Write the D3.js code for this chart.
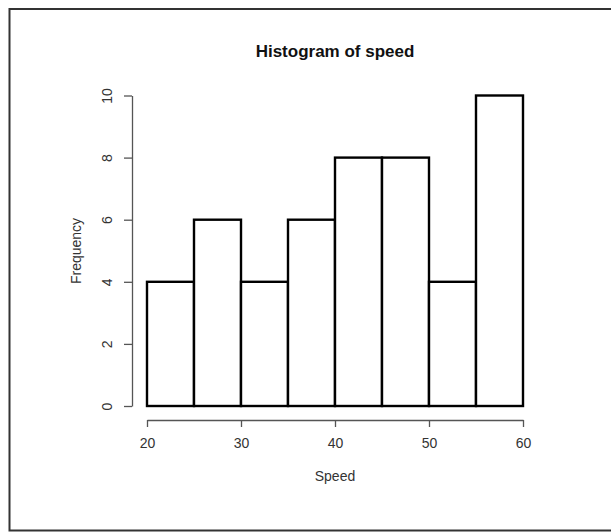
<!DOCTYPE html>
<html>
<head>
<meta charset="utf-8">
<script src="https://cdn.jsdelivr.net/npm/d3@7"></script>
<style>
  body { margin: 0; background: #fff; }
  text { font-family: "Liberation Sans", Arial, sans-serif; }
</style>
</head>
<body>
<svg id="svg" width="611" height="532"></svg>
<script>
/* global d3: false */

// bins of speed, 5 wide
const binStarts = [20, 25, 30, 35, 40, 45, 50, 55];
const binWidth = 5;
const counts = [4, 6, 4, 6, 8, 8, 4, 10];
const xTicks = [20, 30, 40, 50, 60];
const yTicks = [0, 2, 4, 6, 8, 10];
const title = 'Histogram of speed';
const xLabel = 'Speed';
const yLabel = 'Frequency';

const svg = d3.select('#svg');

// frame round the whole picture
svg.append('rect')
  .attr('x', 9.5)
  .attr('y', 9)
  .attr('width', 620)
  .attr('height', 521.5)
  .attr('fill', 'none')
  .attr('stroke', '#333')
  .attr('stroke-width', 2);

const x = d3.scaleLinear().domain([20, 60]).range([147, 523]);
const y = d3.scaleLinear().domain([0, 10]).range([406, 95.5]);

svg.append('g')
  .selectAll('rect')
  .data(binStarts)
  .enter()
  .append('rect')
  .attr('x', d => x(d))
  .attr('y', (d, i) => y(counts[i]))
  .attr('width', d => x(d + binWidth) - x(d))
  .attr('height', (d, i) => y(0) - y(counts[i]))
  .attr('fill', '#fff')
  .attr('stroke', '#000')
  .attr('stroke-width', 2.4);

const xAxis = svg.append('g')
  .attr('transform', 'translate(0,420)')
  .call(d3.axisBottom(x).tickValues(xTicks).tickSize(7).tickSizeOuter(0).tickPadding(11));

const yAxis = svg.append('g')
  .attr('transform', 'translate(132,0)')
  .call(d3.axisLeft(y).tickValues(yTicks).tickSize(8).tickSizeOuter(0));

[xAxis, yAxis].forEach((g) => {
  g.select('.domain').attr('stroke', '#555').attr('stroke-width', 1.3);
  g.selectAll('.tick line').attr('stroke', '#555').attr('stroke-width', 1.3);
  g.selectAll('.tick text')
    .attr('fill', '#333')
    .style('font-size', '14px')
    .style('font-family', '"Liberation Sans", Arial, sans-serif');
});

// R draws the y labels turned on their side
yAxis.selectAll('.tick text')
  .attr('x', null)
  .attr('dy', '0.35em')
  .attr('text-anchor', 'middle')
  .attr('transform', 'translate(-25,0) rotate(-90)');

svg.append('text')
  .attr('x', 335)
  .attr('y', 56.5)
  .attr('text-anchor', 'middle')
  .attr('font-weight', 'bold')
  .attr('font-size', 17)
  .attr('fill', '#111')
  .text(title);

svg.append('text')
  .attr('x', 335)
  .attr('y', 481)
  .attr('text-anchor', 'middle')
  .attr('font-size', 14)
  .attr('fill', '#333')
  .text(xLabel);

svg.append('text')
  .attr('transform', 'translate(81,251) rotate(-90)')
  .attr('text-anchor', 'middle')
  .attr('font-size', 14)
  .attr('fill', '#333')
  .text(yLabel);
</script>
</body>
</html>
